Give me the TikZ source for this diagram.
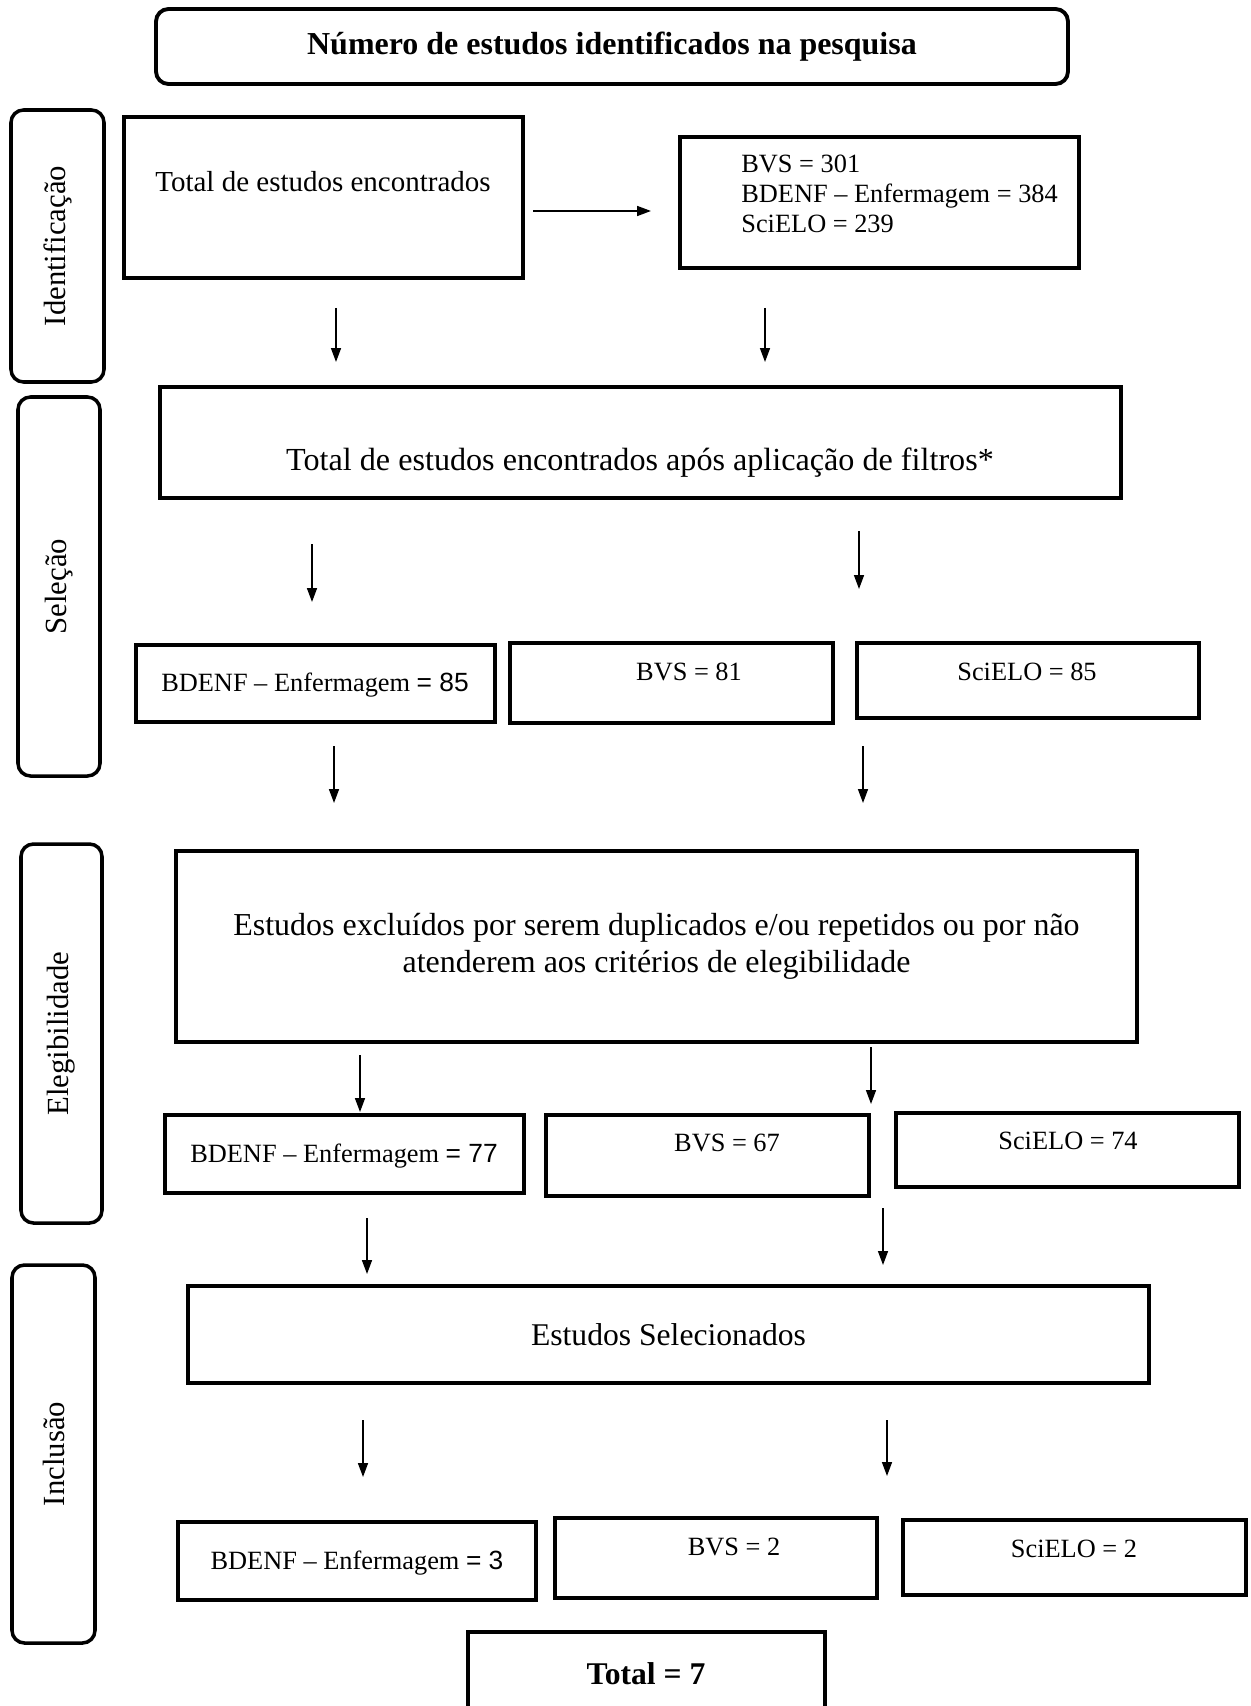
\documentclass[tikz,border=0pt]{standalone}
\usepackage{fontspec}
\setmainfont{Liberation Serif}
\newfontfamily\arialfont{Liberation Sans}
\usetikzlibrary{arrows.meta}

\begin{document}
\begin{tikzpicture}[x=0.02cm, y=-0.02cm,
  tam/.style 2 args={minimum width=#1*0.02cm, minimum height=#2*0.02cm},
  caixa/.style={draw, line width=2.2pt, inner sep=0pt},
  etapa/.style={draw, line width=2pt, rounded corners=0.25cm, inner sep=0pt, rotate=90, font=\fontsize{17.5}{20}\selectfont},
  seta/.style={line width=0.9pt, -{Triangle[length=2.8mm,width=2mm]}},
  fA/.style={font=\fontsize{16.5}{20}\selectfont, align=center},
  fB/.style={font=\fontsize{15}{17}\selectfont, align=left},
  fC/.style={font=\fontsize{18}{21}\selectfont}]
\useasboundingbox (0,0) rectangle (1250,1706);

% titulo
\node[caixa, rounded corners=0.25cm, tam={912}{75}, font=\bfseries\fontsize{18.2}{21}\selectfont] (titulo) at (612,46.5) {Número de estudos identificados na pesquisa};

% etapas (laterais)
\node[etapa, tam={272}{93}] (idSide) at (57.5,246) {Identificação};
\node[etapa, tam={379}{82}] (selSide) at (59,586.5) {Seleção};
\node[etapa, tam={379}{81}] (eleSide) at (61.5,1033.5) {Elegibilidade};
\node[etapa, tam={378}{83}] (incSide) at (53.5,1454) {Inclusão};

% identificacao
\node[caixa, tam={399}{161}] (total) at (323.5,197.5) {};
\node[fA] (tTotal) at (323,182) {Total de estudos encontrados};
\node[caixa, tam={399}{131}] (bases) at (879.5,202.5) {};
\node[fB, anchor=north west, inner sep=0pt] (tBases) at (741,155) {BVS = 301\\BDENF -- Enfermagem = 384\\SciELO = 239};

% selecao
\node[caixa, tam={961}{111}] (filtros) at (640.5,442.5) {};
\node[fA, font=\fontsize{18.3}{21}\selectfont] (tFiltros) at (640,463) {Total de estudos encontrados após aplicação de filtros*};

\node[caixa, tam={359}{77}] (bd1) at (315.5,683.5) {};
\node[fB] (tBd1) at (315,685) {BDENF -- Enfermagem {\arialfont = 85}};
\node[caixa, tam={323}{80}] (bvs1) at (671.5,683) {};
\node[fB] (tBvs1) at (689,672) {BVS = 81};
\node[caixa, tam={342}{75}] (sci1) at (1028,680.5) {};
\node[fB] (tSci1) at (1027,672) {SciELO = 85};

% elegibilidade
\node[caixa, tam={961}{191}, fA, font=\fontsize{18.2}{21}\selectfont] (excluidos) at (656.5,946.5) {Estudos excluídos por serem duplicados e/ou repetidos ou por não\\atenderem aos critérios de elegibilidade};

\node[caixa, tam={359}{78}] (bd2) at (344.5,1154) {};
\node[fB] (tBd2) at (344,1156) {BDENF -- Enfermagem {\arialfont = 77}};
\node[caixa, tam={323}{81}] (bvs2) at (707.5,1155.5) {};
\node[fB] (tBvs2) at (727,1143) {BVS = 67};
\node[caixa, tam={343}{74}] (sci2) at (1067.5,1150) {};
\node[fB] (tSci2) at (1068,1141) {SciELO = 74};

% inclusao
\node[caixa, tam={961}{97}, fC] (selecionados) at (668.5,1334.5) {Estudos Selecionados};

\node[caixa, tam={358}{78}] (bd3) at (357,1561) {};
\node[fB] (tBd3) at (357,1563) {BDENF -- Enfermagem {\arialfont = 3}};
\node[caixa, tam={322}{80}] (bvs3) at (716,1558) {};
\node[fB] (tBvs3) at (734,1547) {BVS = 2};
\node[caixa, tam={343}{75}] (sci3) at (1074.5,1557.5) {};
\node[fB] (tSci3) at (1074,1549) {SciELO = 2};

% total final
\node[caixa, tam={357}{90}] (final) at (646.5,1677) {};
\node[font=\bfseries\fontsize{18}{21}\selectfont] (tFinal) at (646,1674) {Total = 7};

% setas
\foreach \n/\xa/\ya/\xb/\yb in {1/533/211/651/211, 2/336/308/336/362, 3/765/308/765/362,
  4/312/544/312/602, 5/859/531/859/589, 6/334/746/334/803, 7/863/746/863/803,
  8/360/1055/360/1112, 9/871/1047/871/1104, 10/367/1218/367/1274, 11/883/1208/883/1265,
  12/363/1420/363/1477, 13/887/1420/887/1476} {
  \coordinate (ini\n) at (\xa,\ya);
  \coordinate (fim\n) at (\xb,\yb);
  \draw[seta] (ini\n) -- (fim\n);
}

\end{tikzpicture}
\end{document}
